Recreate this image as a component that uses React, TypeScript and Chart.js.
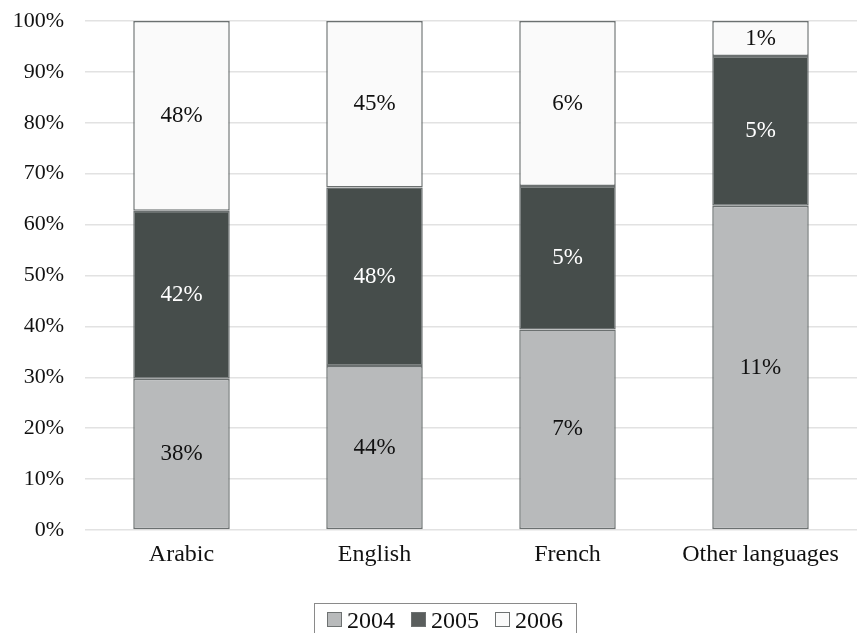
import React, { useEffect, useRef } from "react";
import { Chart, registerables } from "chart.js";

Chart.register(...registerables);

const categories = ["Arabic", "English", "French", "Other languages"];
const seriesNames = ["2004", "2005", "2006"];
const values2004 = [29.7, 32.2, 39.4, 63.7];
const values2005 = [33.0, 35.1, 28.2, 29.4];
const values2006 = [37.3, 32.7, 32.4, 6.9];
const labels2004 = ["38%", "44%", "7%", "11%"];
const labels2005 = ["42%", "48%", "5%", "5%"];
const labels2006 = ["48%", "45%", "6%", "1%"];
const yTicks = [0, 10, 20, 30, 40, 50, 60, 70, 80, 90, 100];

const colors = ["#b8babb", "#464d4b", "#fafafa"];
const legendColors = ["#b8babb", "#5a5e5d", "#fafafa"];
const labelColors = ["#111111", "#ffffff", "#111111"];
const FONT = "'Liberation Serif', 'Times New Roman', serif";

const segmentLabels = {
  id: "segmentLabels",
  afterDatasetsDraw(chart: any) {
    const ctx = chart.ctx;
    const all = [labels2004, labels2005, labels2006];
    ctx.save();
    ctx.font = `23px ${FONT}`;
    ctx.textAlign = "center";
    ctx.textBaseline = "middle";
    chart.data.datasets.forEach((ds: any, di: number) => {
      const meta = chart.getDatasetMeta(di);
      meta.data.forEach((el: any, i: number) => {
        const cy = (el.y + el.base) / 2;
        ctx.fillStyle = labelColors[di];
        ctx.fillText(all[di][i], el.x, cy);
      });
    });
    ctx.restore();
  },
};

const boxLegend = {
  id: "boxLegend",
  afterDraw(chart: any) {
    const ctx = chart.ctx;
    ctx.save();
    ctx.font = `24px ${FONT}`;
    ctx.textBaseline = "alphabetic";
    const box = 15;
    const gapBoxText = 5;
    const gapItems = 16;
    const padX = 13;
    let total = padX * 2;
    const widths = seriesNames.map((n) => ctx.measureText(n).width);
    widths.forEach((w, i) => {
      total += box + gapBoxText + w + (i < widths.length - 1 ? gapItems : 0);
    });
    const left = 445 - total / 2;
    const top = 603;
    ctx.strokeStyle = "#8a8a8a";
    ctx.lineWidth = 1;
    ctx.strokeRect(left + 0.5, top + 0.5, total, 40);
    let x = left + padX;
    seriesNames.forEach((n, i) => {
      ctx.fillStyle = legendColors[i];
      ctx.fillRect(x, 612, box, box);
      ctx.strokeStyle = "#6e7272";
      ctx.strokeRect(x + 0.5, 612.5, box - 1, box - 1);
      x += box + gapBoxText;
      ctx.fillStyle = "#111111";
      ctx.fillText(n, x, 628);
      x += widths[i] + gapItems;
    });
    ctx.restore();
  },
};

export default function App() {
  const ref = useRef<HTMLCanvasElement>(null);
  useEffect(() => {
    if (!ref.current) return;
    const mk = (data: number[], i: number) => ({
      label: seriesNames[i],
      data,
      backgroundColor: colors[i],
      borderColor: "#6b7070",
      borderWidth: 1.5,
      borderSkipped: false,
      barPercentage: 0.5,
      categoryPercentage: 1,
    });
    const chart = new Chart(ref.current, {
      type: "bar",
      data: {
        labels: categories,
        datasets: [mk(values2004, 0), mk(values2005, 1), mk(values2006, 2)],
      },
      options: {
        animation: false,
        responsive: false,
        maintainAspectRatio: false,
        layout: { padding: { top: 21, right: 0, left: 0, bottom: 0 } },
        plugins: { legend: { display: false }, tooltip: { enabled: false } },
        scales: {
          x: {
            stacked: true,
            grid: { display: false, drawTicks: false },
            border: { display: false },
            ticks: {
              color: "#111111",
              font: { family: FONT, size: 24 },
              padding: 10,
            },
            afterFit(scale: any) {
              scale.height = 103;
              scale.paddingLeft = 0;
              scale.paddingRight = 0;
            },
          },
          y: {
            stacked: true,
            min: 0,
            max: 100,
            afterBuildTicks(scale: any) {
              scale.ticks = yTicks.map((v) => ({ value: v }));
            },
            grid: { color: "#e2e2e2", lineWidth: 1.5, drawTicks: false },
            border: { display: false },
            ticks: {
              color: "#111111",
              font: { family: FONT, size: 22 },
              padding: 21,
              callback: (v: any) => `${v}%`,
            },
            afterFit(scale: any) {
              scale.width = 85;
              scale.paddingTop = 0;
              scale.paddingBottom = 0;
            },
          },
        },
      },
      plugins: [segmentLabels, boxLegend],
    });
    return () => chart.destroy();
  }, []);
  return (
    <div style={{ position: "fixed", left: 0, top: 0, width: 857, height: 633, background: "#fff" }}>
      <canvas ref={ref} width={857} height={633} style={{ width: 857, height: 633, display: "block" }} />
    </div>
  );
}
